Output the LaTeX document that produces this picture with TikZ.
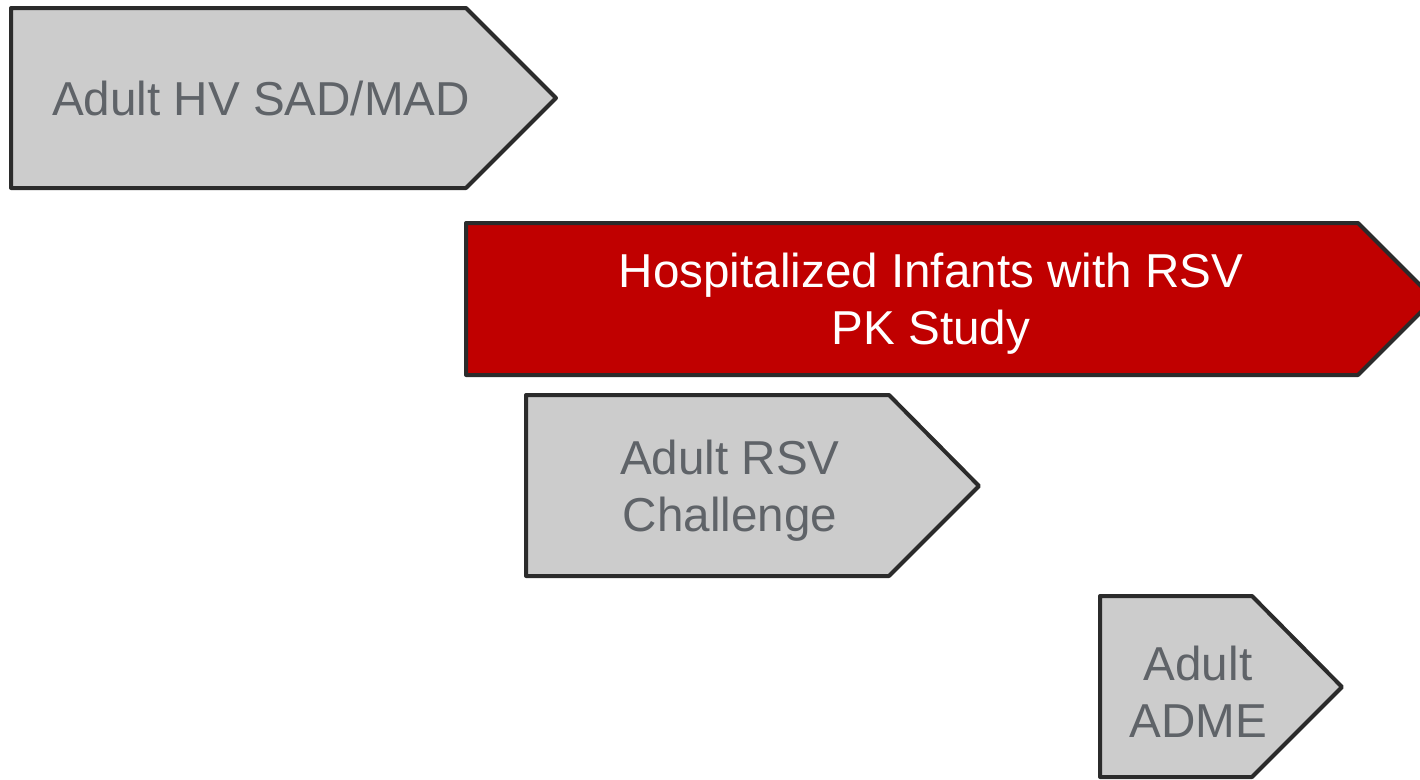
\documentclass[tikz,border=0pt]{standalone}
\usepackage{fontspec}
\setmainfont{Liberation Sans}
\definecolor{edge}{RGB}{43,43,43}
\definecolor{boxgray}{RGB}{204,204,204}
\definecolor{boxred}{RGB}{192,0,0}
\definecolor{labelgray}{RGB}{95,99,104}
\begin{document}
\begin{tikzpicture}[x=1pt,y=-1pt,
  phase/.style={draw=edge,line width=4pt,line join=round},
  grayphase/.style={phase,fill=boxgray},
  redphase/.style={phase,fill=boxred},
  lbl/.style={inner sep=0pt,align=center,font=\fontsize{47.6}{57}\selectfont},
  graylbl/.style={lbl,text=labelgray},
  redlbl/.style={lbl,text=white}]
\useasboundingbox (0,0) rectangle (1420,779);
\clip (0,0) rectangle (1420,779);
% phase arrows: left, top, shoulder, tip, bottom
\draw[grayphase] (11,8) -- (466,8) -- (556,98) -- (466,188) -- (11,188) -- cycle;
\draw[redphase] (466,223) -- (1358,223) -- (1434,299) -- (1358,375) -- (466,375) -- cycle;
\draw[grayphase] (526,395) -- (889,395) -- (979,486) -- (889,576) -- (526,576) -- cycle;
\draw[grayphase] (1100,596) -- (1252,596) -- (1342,687) -- (1252,777) -- (1100,777) -- cycle;
% labels
\node[graylbl] (sadmad) at (261,98) {Adult HV SAD/MAD};
\node[redlbl] (infants) at (931,304) {Hospitalized Infants with RSV\\PK Study};
\node[graylbl] (challenge) at (730,491) {Adult RSV\\Challenge};
\node[graylbl] (adme) at (1198,692) {Adult\\ADME};
\end{tikzpicture}
\end{document}
